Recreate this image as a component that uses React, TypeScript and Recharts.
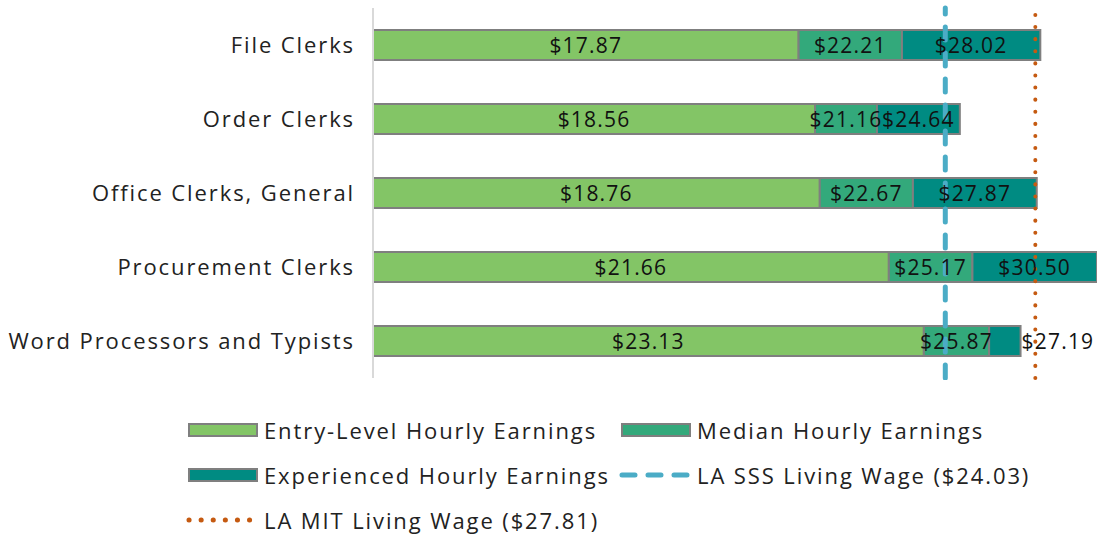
import React from 'react';
import { BarChart, Bar, XAxis, YAxis, ReferenceLine, LabelList } from 'recharts';

const occupations = [
  'File Clerks',
  'Order Clerks',
  'Office Clerks, General',
  'Procurement Clerks',
  'Word Processors and Typists',
];
const entryWage = [17.87, 18.56, 18.76, 21.66, 23.13];
const medianWage = [22.21, 21.16, 22.67, 25.17, 25.87];
const experiencedWage = [28.02, 24.64, 27.87, 30.5, 27.19];
const sssWage = 24.03;
const mitWage = 27.81;

const FONT = "'Open Sans', sans-serif";
const C_ENTRY = '#83C566';
const C_MEDIAN = '#33A97B';
const C_EXP = '#008B82';
const C_SSS = '#4BACC6';
const C_MIT = '#C55A11';
const EDGE = '#7F7F7F';

// bars are stacked as differences, labels show the real values
const rows = occupations.map((name, i) => ({
  name,
  entry: entryWage[i],
  median: medianWage[i],
  experienced: experiencedWage[i],
  medianPart: +(medianWage[i] - entryWage[i]).toFixed(2),
  expPart: +(experiencedWage[i] - medianWage[i]).toFixed(2),
}));

const money = (v: any) => `$${Number(v).toFixed(2)}`;

const SegLabel = (props: any) => {
  const { x, y, width, height, value } = props;
  const outside = width < 40;
  return (
    <text
      x={outside ? x + width + 1 : x + width / 2}
      y={y + height / 2}
      textAnchor={outside ? 'start' : 'middle'}
      dominantBaseline="central"
      fontFamily={FONT}
      fontSize={21}
      fill="#111"
      style={{ letterSpacing: '1.2px' }}
    >
      {money(value)}
    </text>
  );
};

const SwatchBox = ({ color }: { color: string }) => (
  <svg width={70} height={14} style={{ display: 'block' }}>
    <rect x={1} y={1} width={68} height={12} fill={color} stroke={EDGE} strokeWidth={2} />
  </svg>
);

const SwatchLine = ({ color, dash }: { color: string; dash: string }) => (
  <svg width={72} height={14} style={{ display: 'block' }}>
    <line x1={3} y1={7} x2={69} y2={7} stroke={color} strokeWidth={5}
      strokeLinecap="round" strokeDasharray={dash === 'dot' ? '0.1 12' : '13 13'} />
  </svg>
);

const legendItems = [
  { label: 'Entry-Level Hourly Earnings', swatch: <SwatchBox color={C_ENTRY} />, left: 188, top: 430 },
  { label: 'Median Hourly Earnings', swatch: <SwatchBox color={C_MEDIAN} />, left: 621, top: 430 },
  { label: 'Experienced Hourly Earnings', swatch: <SwatchBox color={C_EXP} />, left: 188, top: 475 },
  { label: `LA SSS Living Wage (${money(sssWage)})`, swatch: <SwatchLine color={C_SSS} dash="dash" />, left: 619, top: 475 },
  { label: `LA MIT Living Wage (${money(mitWage)})`, swatch: <SwatchLine color={C_MIT} dash="dot" />, left: 186, top: 520 },
];

export default function App() {
  return (
    <div style={{ position: 'absolute', left: 0, top: 0, width: 1097, height: 535, background: '#fff', fontFamily: FONT }}>
      <BarChart
        width={1097}
        height={380}
        layout="vertical"
        data={rows}
        margin={{ top: 8, right: 0, bottom: 2, left: 0 }}
      >
        <XAxis type="number" hide domain={[0, 30.4]} allowDataOverflow />
        <YAxis
          type="category"
          dataKey="name"
          width={373}
          axisLine={{ stroke: '#D9D9D9', strokeWidth: 2 }}
          tickLine={false}
          tickMargin={12}
          tick={{ fontSize: 22, fill: '#222', fontFamily: FONT, style: { letterSpacing: '1.9px' } }}
        />
        <Bar dataKey="entry" stackId="w" fill={C_ENTRY} stroke={EDGE} strokeWidth={2} barSize={30} isAnimationActive={false}>
          <LabelList dataKey="entry" content={SegLabel} />
        </Bar>
        <Bar dataKey="medianPart" stackId="w" fill={C_MEDIAN} stroke={EDGE} strokeWidth={2} barSize={30} isAnimationActive={false}>
          <LabelList dataKey="median" content={SegLabel} />
        </Bar>
        <Bar dataKey="expPart" stackId="w" fill={C_EXP} stroke={EDGE} strokeWidth={2} barSize={30} isAnimationActive={false}>
          <LabelList dataKey="experienced" content={SegLabel} />
        </Bar>
        <ReferenceLine x={sssWage} stroke={C_SSS} strokeWidth={5} strokeDasharray="13 13" strokeLinecap="round" />
        <ReferenceLine x={mitWage} stroke={C_MIT} strokeWidth={4} strokeDasharray="0.1 12" strokeLinecap="round" />
      </BarChart>
      {legendItems.map((it) => (
        <div
          key={it.label}
          style={{
            position: 'absolute',
            left: it.left,
            top: it.top - 14,
            height: 28,
            display: 'flex',
            alignItems: 'center',
            gap: 6,
            fontSize: 22,
            color: '#222',
            whiteSpace: 'nowrap',
            letterSpacing: '1.9px',
          }}
        >
          {it.swatch}
          <span>{it.label}</span>
        </div>
      ))}
    </div>
  );
}
